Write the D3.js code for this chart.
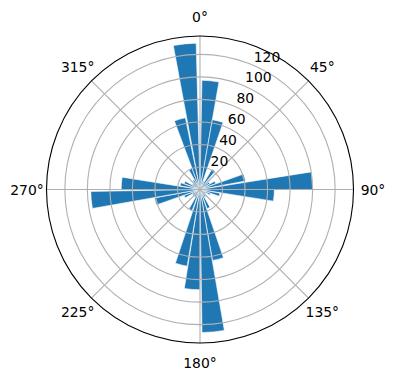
<!DOCTYPE html>
<html>
<head>
<meta charset="utf-8">
<script src="https://cdn.jsdelivr.net/npm/d3@7"></script>
<style>
  html, body { margin: 0; padding: 0; background: #fff; }
  text { font-family: "DejaVu Sans", sans-serif; }
</style>
</head>
<body>
<div id="root"></div>
<script>
// bar directions (degrees, clockwise from north) and counts
const directions = [5.5, 14.5, 25, 35, 45, 55, 65, 75, 85.5, 94.5, 105, 115, 125, 135, 145, 155, 165.5, 174.7,
  184.5, 194, 205, 215, 225, 235, 245, 255, 264.5, 274.5, 285, 295, 305, 315, 325, 335, 344, 354]
const counts = [97, 63, 8, 21, 5, 10, 15, 41, 100, 66, 18, 10, 6, 4, 8, 18, 64, 127,
  89, 69, 20, 8, 5, 8, 15, 41, 97, 70, 18, 15, 8, 5, 10, 20, 65, 130]
const radialTicks = [20, 40, 60, 80, 100, 120]
const angleTicks = [0, 45, 90, 135, 180, 225, 270, 315]

const width = 396
const height = 380
const cx = 200
const cy = 189.5
const outerR = 153.5
const barWidth = 9 // degrees

const rad = d => d * Math.PI / 180

const svg = d3.select("#root")
  .append("svg")
  .attr("width", width)
  .attr("height", height)

const g = svg.append("g")
  .attr("transform", `translate(${cx},${cy})`)

const rScale = d3.scaleLinear()
  .domain([0, 136.3])
  .range([0, outerR])

// bars
const arc = d3.arc()
  .innerRadius(0)
  .outerRadius(d => rScale(d.value))
  .startAngle(d => rad(d.dir - barWidth / 2))
  .endAngle(d => rad(d.dir + barWidth / 2))

const data = directions.map((dir, i) => ({ dir, value: counts[i] }))

g.append("g")
  .selectAll("path")
  .data(data)
  .join("path")
  .attr("d", arc)
  .attr("fill", "#1f77b4")
  .attr("stroke", "#fff")
  .attr("stroke-width", 0.6)

// grid on top of bars
const grid = g.append("g")
  .attr("fill", "none")
  .attr("stroke", "#b0b0b0")
  .attr("stroke-width", 1.1)

grid.selectAll("circle")
  .data(radialTicks)
  .join("circle")
  .attr("r", d => rScale(d))

grid.selectAll("line")
  .data(angleTicks)
  .join("line")
  .attr("x1", 0)
  .attr("y1", 0)
  .attr("x2", d => outerR * Math.sin(rad(d)))
  .attr("y2", d => -outerR * Math.cos(rad(d)))

// outer frame
g.append("circle")
  .attr("r", outerR)
  .attr("fill", "none")
  .attr("stroke", "#000")
  .attr("stroke-width", 1.1)

// angle labels
g.append("g")
  .selectAll("text")
  .data(angleTicks)
  .join("text")
  .attr("x", d => 173 * Math.sin(rad(d)))
  .attr("y", d => -173 * Math.cos(rad(d)))
  .attr("text-anchor", "middle")
  .attr("dominant-baseline", "central")
  .attr("font-size", "13.9px")
  .attr("fill", "#000")
  .text(d => `${d}°`)

// radial labels at 22.5°
g.append("g")
  .selectAll("text")
  .data(radialTicks)
  .join("text")
  .attr("x", d => rScale(d) * Math.sin(rad(22.5)) + 2)
  .attr("y", d => -rScale(d) * Math.cos(rad(22.5)) - 3)
  .attr("font-size", "13.9px")
  .attr("fill", "#000")
  .text(d => d)
</script>
</body>
</html>
